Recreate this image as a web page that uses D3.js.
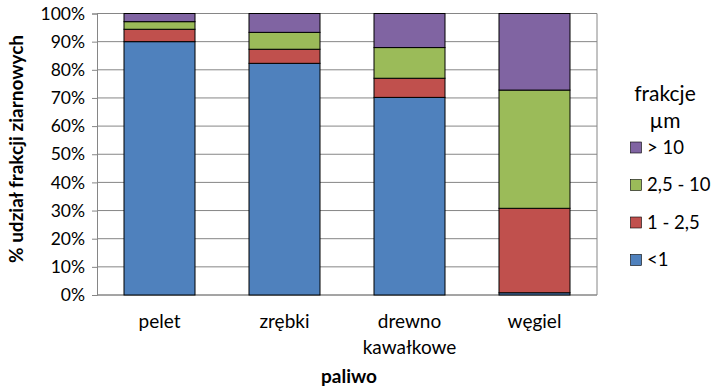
<!DOCTYPE html>
<html><head><meta charset="utf-8">
<script src="https://cdn.jsdelivr.net/npm/d3@7"></script>
<style>body{margin:0;background:#fff}svg{display:block;font-family:Lato,"Open Sans",sans-serif}</style>
</head><body><svg id="c" width="727" height="392"></svg>
<script>
const categories = ["pelet", "zrębki", "drewno\nkawałkowe", "węgiel"];
const seriesNames = ["<1", "1 - 2,5", "2,5 - 10", "> 10"];
const lt1 = [90, 82.3, 70.2, 0.8];
const s1to25 = [4.4, 5, 6.8, 30];
const s25to10 = [2.7, 6, 10.9, 42];
const gt10 = [2.9, 6.7, 12.1, 27.2];
const yTicks = [0,10,20,30,40,50,60,70,80,90,100];
const colors = ["#4F81BD", "#C0504D", "#9BBB59", "#8064A2"];

const FONT = "Lato,'Open Sans',sans-serif";
const rows = categories.map((c,i)=>({cat:c, "<1":lt1[i], "1 - 2,5":s1to25[i], "2,5 - 10":s25to10[i], "> 10":gt10[i]}));
const stack = d3.stack().keys(seriesNames)(rows);

const svg = d3.select("#c");
const L=97, R=597, T=13.5, B=295;
const x = d3.scaleBand().domain(categories).range([L,R]).paddingInner(0.432).paddingOuter(0.216);
const y = d3.scaleLinear().domain([0,100]).range([B,T]);

svg.append("g").selectAll("line").data(yTicks).join("line")
  .attr("x1",L).attr("x2",R).attr("y1",d=>y(d)).attr("y2",d=>y(d))
  .attr("stroke","#868686").attr("stroke-width",1);
svg.append("line").attr("x1",R).attr("x2",R).attr("y1",T).attr("y2",B).attr("stroke","#868686");

const ya = svg.append("g").attr("transform",`translate(${L},0)`)
  .call(d3.axisLeft(y).tickValues(yTicks).tickFormat(d=>d+"%").tickSize(5).tickPadding(7));
ya.attr("font-family",FONT).attr("font-size",17.5);
ya.select(".domain").attr("stroke","#868686");
ya.selectAll(".tick line").attr("stroke","#868686");
ya.selectAll("text").attr("fill","#000");

svg.append("line").attr("x1",L).attr("x2",R).attr("y1",B).attr("y2",B).attr("stroke","#868686");

svg.append("g").selectAll("g").data(stack).join("g")
  .attr("fill",(d,i)=>colors[i])
  .selectAll("rect").data(d=>d).join("rect")
  .attr("x",d=>x(d.data.cat)).attr("width",x.bandwidth())
  .attr("y",d=>y(d[1])).attr("height",d=>y(d[0])-y(d[1]))
  .attr("stroke","#000").attr("stroke-width",1);

const cl = svg.append("g").selectAll("text").data(categories).join("text")
  .attr("x",d=>x(d)+x.bandwidth()/2).attr("y",328).attr("text-anchor","middle")
  .attr("font-size",19).attr("fill","#000");
cl.each(function(d){
  const lines=d.split("\n");
  d3.select(this).selectAll("tspan").data(lines).join("tspan")
    .attr("x",x(d)+x.bandwidth()/2).attr("dy",(l,i)=>i?26:0).text(l=>l);
});

svg.append("text").attr("x",349).attr("y",383).attr("text-anchor","middle")
  .attr("font-size",19).attr("font-weight","bold").text("paliwo");
svg.append("text").attr("transform","translate(23,149) rotate(-90)").attr("text-anchor","middle")
  .attr("font-size",19).attr("font-weight","bold").text("% udział frakcji ziarnowych");

svg.append("text").attr("x",665).attr("y",101).attr("text-anchor","middle").attr("font-size",21).text("frakcje");
svg.append("text").attr("x",665).attr("y",128).attr("text-anchor","middle").attr("font-size",21).text("µm");
const legOrder = [3,2,1,0];
const lg = svg.append("g").selectAll("g").data(legOrder).join("g")
  .attr("transform",(d,i)=>`translate(630,${147.5+i*37.5})`);
lg.append("rect").attr("x",0.5).attr("y",-5.5).attr("width",11).attr("height",11)
  .attr("fill",d=>colors[d]).attr("stroke","#000").attr("stroke-width",0.6);
lg.append("text").attr("x",17).attr("y",6).attr("font-size",18.5).text(d=>seriesNames[d]);
</script></body></html>
